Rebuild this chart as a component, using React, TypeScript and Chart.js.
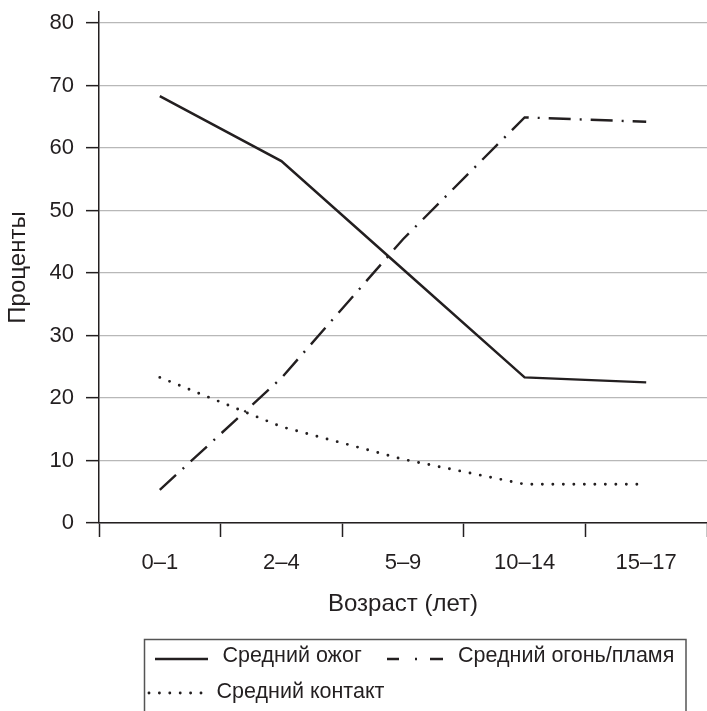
import React, { useEffect, useRef } from "react";
import { Chart, registerables } from "chart.js";

Chart.register(...registerables);

const categories = ["0–1", "2–4", "5–9", "10–14", "15–17"];
const burnValues = [68.3, 57.9, 40.6, 23.3, 22.5];
const fireValues = [5.3, 23.2, 45.4, 64.9, 64.2];
const contactValues = [23.3, 15.4, 10.2, 6.2, 6.2];
const seriesLabels = ["Средний ожог", "Средний огонь/пламя", "Средний контакт"];
const yTickValues = [0, 10, 20, 30, 40, 50, 60, 70, 80];
const xTitle = "Возраст (лет)";
const yTitle = "Проценты";

const INK = "#231f20";
const FONT = "'Liberation Sans', Arial, Helvetica, sans-serif";

const boxLegend = {
  id: "boxLegend",
  afterDraw(chart: any) {
    const ctx = chart.ctx as CanvasRenderingContext2D;
    const ds = chart.data.datasets;
    ctx.save();
    ctx.strokeStyle = "#555";
    ctx.lineWidth = 1.5;
    ctx.setLineDash([]);
    ctx.strokeRect(144.5, 639.5, 541.5, 120);

    const items = [
      { i: 0, x0: 155, x1: 208, ly: 659, tx: 222.5, ty: 656, dash: [] as number[], cap: "butt" },
      { i: 1, x0: 387, x1: 443, ly: 659, tx: 458, ty: 656, dash: [12, 16, 2, 13, 14], cap: "butt" },
      { i: 2, x0: 149, x1: 211, ly: 693, tx: 216.5, ty: 692.5, dash: [0, 10.4], cap: "round" },
    ];
    ctx.font = `21.5px ${FONT}`;
    ctx.textBaseline = "middle";
    ctx.textAlign = "left";
    for (const it of items) {
      const d = ds[it.i];
      ctx.beginPath();
      ctx.strokeStyle = d.borderColor;
      ctx.lineWidth = d.borderWidth;
      ctx.setLineDash(it.dash);
      ctx.lineCap = it.cap as CanvasLineCap;
      ctx.moveTo(it.x0, it.ly);
      ctx.lineTo(it.x1, it.ly);
      ctx.stroke();
      ctx.fillStyle = INK;
      ctx.fillText(d.label, it.tx, it.ty);
    }
    ctx.restore();
  },
};

export default function App() {
  const ref = useRef<HTMLCanvasElement | null>(null);

  useEffect(() => {
    if (!ref.current) return;
    Chart.defaults.font.family = FONT;
    const chart = new Chart(ref.current, {
      type: "line",
      data: {
        labels: categories,
        datasets: [
          {
            label: seriesLabels[0],
            data: burnValues,
            borderColor: INK,
            borderWidth: 2.5,
            pointRadius: 0,
            tension: 0,
            fill: false,
          },
          {
            label: seriesLabels[1],
            data: fireValues,
            borderColor: INK,
            borderWidth: 2.4,
            borderDash: [22, 9, 2, 9],
            pointRadius: 0,
            tension: 0,
            fill: false,
          },
          {
            label: seriesLabels[2],
            data: contactValues,
            borderColor: INK,
            borderWidth: 2.9,
            borderDash: [0, 10.5],
            borderCapStyle: "round",
            pointRadius: 0,
            tension: 0,
            fill: false,
          },
        ],
      },
      options: {
        animation: false,
        responsive: false,
        layout: { padding: { left: 0, right: 0, top: 12, bottom: 81 } },
        plugins: {
          legend: { display: false },
          tooltip: { enabled: false },
        },
        scales: {
          x: {
            offset: true,
            grid: {
              display: true,
              drawOnChartArea: false,
              offset: true,
              tickLength: 14,
              tickColor: INK,
              tickWidth: 1.5,
            },
            border: { color: INK, width: 1.5 },
            ticks: {
              padding: 13,
              color: INK,
              font: { size: 22 },
              maxRotation: 0,
              autoSkip: false,
            },
            title: {
              display: true,
              text: xTitle,
              color: INK,
              font: { size: 24 },
              padding: { top: 0, bottom: 11.5 },
            },
            afterFit: (s: any) => {
              s.height = 107;
              s.paddingLeft = 0;
              s.paddingRight = 0;
            },
          },
          y: {
            min: 0,
            max: 81.76,
            afterBuildTicks: (s: any) => {
              s.ticks = yTickValues.map((v) => ({ value: v }));
            },
            afterFit: (s: any) => {
              s.width = 99;
              s.paddingTop = 0;
              s.paddingBottom = 0;
            },
            grid: {
              color: "#b8b8b8",
              lineWidth: 1.3,
              tickColor: INK,
              tickLength: 13,
              tickWidth: 1.5,
            },
            border: { color: INK, width: 1.5 },
            ticks: {
              padding: 12,
              color: INK,
              font: { size: 22 },
            },
            title: {
              display: true,
              text: yTitle,
              color: INK,
              font: { size: 24 },
              padding: { top: 4, bottom: 0 },
            },
          },
        },
      },
      plugins: [boxLegend],
    });
    return () => chart.destroy();
  }, []);

  return (
    <div style={{ position: "absolute", left: 0, top: 0, width: 707, height: 711, background: "#fff" }}>
      <canvas ref={ref} width={707} height={711} style={{ display: "block" }} />
    </div>
  );
}
